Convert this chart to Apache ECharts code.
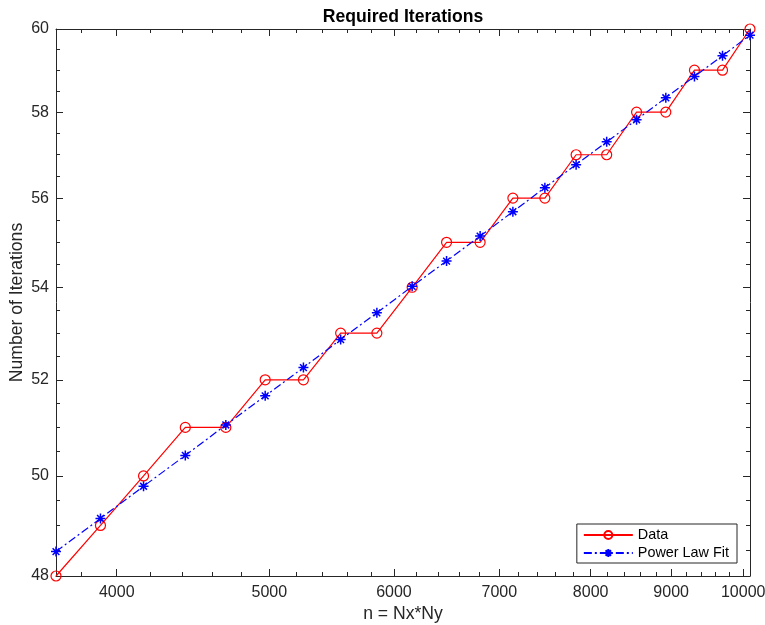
<!DOCTYPE html>
<html>
<head>
<meta charset="utf-8">
<script src="https://cdn.jsdelivr.net/npm/echarts@6/dist/echarts.min.js"></script>
<style>
html,body{margin:0;padding:0;background:#fff;}
#chart{width:765px;height:625px;}
</style>
</head>
<body>
<div id="chart"></div>
<script>
// n = Nx*Ny
const nValues = [3660, 3906, 4160, 4422, 4692, 4970, 5256, 5550, 5852, 6162, 6480, 6806, 7140, 7482, 7832, 8190, 8556, 8930, 9312, 9702, 10100];
const dataIterations = [48, 49, 50, 51, 51, 52, 52, 53, 53, 54, 55, 55, 56, 56, 57, 57, 58, 58, 59, 59, 60];
const fitIterations = [48.48, 49.14, 49.79, 50.42, 51.05, 51.66, 52.26, 52.86, 53.44, 54.02, 54.58, 55.14, 55.69, 56.24, 56.77, 57.30, 57.82, 58.34, 58.85, 59.35, 59.85];
const xMajorTicks = [4000, 5000, 6000, 7000, 8000, 9000, 10000];
const xMinorTicks = [3800, 4200, 4400, 4600, 4800, 5200, 5400, 5600, 5800, 6200, 6400, 6600, 6800, 7200, 7400, 7600, 7800, 8200, 8400, 8600, 8800, 9200, 9400, 9600, 9800];
const yMajorTicks = [48, 50, 52, 54, 56, 58, 60];
const yMinorTicks = [48.5, 49, 49.5, 50.5, 51, 51.5, 52.5, 53, 53.5, 54.5, 55, 55.5, 56.5, 57, 57.5, 58.5, 59, 59.5];
const xRange = [3660, 10100];
const yRange = [48, 60];

const axisColor = '#262626';
const font = '"Liberation Sans", Arial, Helvetica, sans-serif';
const fmt = v => String(Math.round(v));

function xAx(pos, ticks, len, showLine, showLabels, extra) {
  return Object.assign({
    type: 'log', logBase: 10, min: xRange[0], max: xRange[1], position: pos,
    axisLine: { show: showLine, onZero: false, lineStyle: { color: axisColor, width: 1 } },
    axisTick: { show: true, inside: true, length: len, customValues: ticks, lineStyle: { color: axisColor, width: 1 } },
    axisLabel: showLabels ? { show: true, customValues: ticks, formatter: fmt, color: axisColor, fontSize: 16, fontFamily: font, margin: 9 } : { show: false },
    splitLine: { show: false }, minorTick: { show: false }, minorSplitLine: { show: false }
  }, extra || {});
}
function yAx(pos, ticks, len, showLine, showLabels, extra) {
  return Object.assign({
    type: 'log', logBase: 10, min: yRange[0], max: yRange[1], position: pos,
    axisLine: { show: showLine, onZero: false, lineStyle: { color: axisColor, width: 1 } },
    axisTick: { show: true, inside: true, length: len, customValues: ticks, lineStyle: { color: axisColor, width: 1 } },
    axisLabel: showLabels ? { show: true, customValues: ticks, formatter: fmt, color: axisColor, fontSize: 16, fontFamily: font, margin: 7 } : { show: false },
    splitLine: { show: false }, minorTick: { show: false }, minorSplitLine: { show: false }
  }, extra || {});
}

const chart = echarts.init(document.getElementById('chart'), null, { renderer: 'canvas' });
chart.setOption({
  backgroundColor: '#ffffff',
  animation: false,
  title: {
    text: 'Required Iterations', left: 403, top: 8, textAlign: 'center', padding: 0,
    textStyle: { fontFamily: font, fontSize: 17.6, fontWeight: 'bold', color: '#000' }
  },
  grid: { left: 56, right: 15, top: 29, bottom: 49, containLabel: false, outerBoundsMode: 'none' },
  xAxis: [
    xAx('bottom', xMajorTicks, 7, true, true, {
      name: 'n = Nx*Ny', nameLocation: 'middle', nameGap: 29, nameMoveOverlap: false,
      nameTextStyle: { fontFamily: font, fontSize: 17.6, color: axisColor }
    }),
    xAx('bottom', xMinorTicks, 4, false, false),
    xAx('top', xMajorTicks, 7, true, false),
    xAx('top', xMinorTicks, 4, false, false)
  ],
  yAxis: [
    yAx('left', yMajorTicks, 7, true, true, {
      name: 'Number of Iterations', nameLocation: 'middle', nameGap: 30, nameMoveOverlap: false,
      nameTextStyle: { fontFamily: font, fontSize: 17.6, color: axisColor }
    }),
    yAx('left', yMinorTicks, 4, false, false),
    yAx('right', yMajorTicks, 7, true, false),
    yAx('right', yMinorTicks, 4, false, false)
  ],
  legend: {
    right: 28, bottom: 62, orient: 'vertical',
    itemWidth: 49, itemHeight: 10, itemGap: 4,
    padding: [4, 8, 3, 6],
    backgroundColor: '#fff', borderColor: axisColor, borderWidth: 1,
    textStyle: { fontFamily: font, fontSize: 14.4, color: '#000' },
    data: ['Data', 'Power Law Fit']
  },
  series: [
    {
      name: 'Data', type: 'line', xAxisIndex: 0, yAxisIndex: 0,
      data: nValues.map((n, i) => [n, dataIterations[i]]),
      symbol: 'circle', symbolSize: 10, clip: false,
      lineStyle: { color: '#ff0000', width: 1.2 },
      itemStyle: { color: 'rgba(255,255,255,0)', borderColor: '#ff0000', borderWidth: 1.2 },
      z: 3
    },
    {
      name: 'Power Law Fit', type: 'line', xAxisIndex: 0, yAxisIndex: 0,
      data: nValues.map((n, i) => [n, fitIterations[i]]),
      symbol: 'path://M5,0L5,10M0,5L10,5M1.6,1.6L8.4,8.4M1.6,8.4L8.4,1.6',
      symbolSize: 10, clip: false,
      lineStyle: { color: '#0000ff', width: 1.2, type: [8, 3, 2, 3] },
      itemStyle: { color: '#0000ff', borderColor: '#0000ff', borderWidth: 1.5 },
      z: 4
    }
  ]
});
</script>
</body>
</html>
